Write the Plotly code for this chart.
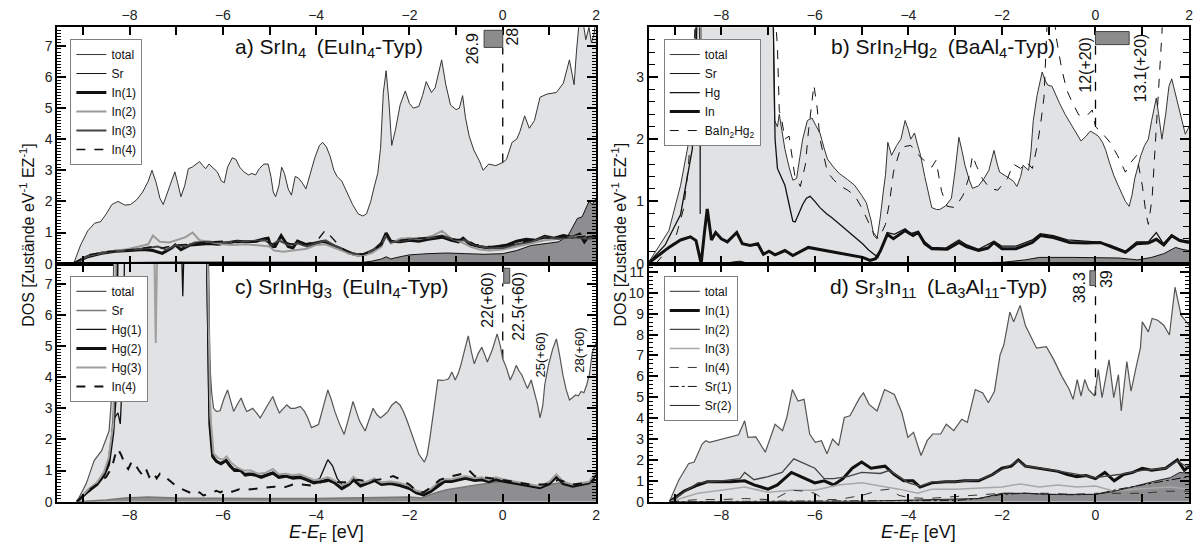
import plotly.graph_objects as go

# ===================== DATA =====================
# ---- panel a) SrIn4 ----
a_total_E = [-9.2,-9.05,-8.9,-8.75,-8.62,-8.5,-8.38,-8.25,-8.1,-7.98,-7.85,-7.72,-7.6,-7.52,-7.43,-7.35,-7.28,-7.18,-7.08,-7.03,-6.97,-6.9,-6.82,-6.74,-6.66,-6.58,-6.5,-6.43,-6.37,-6.3,-6.22,-6.12,-6.03,-5.97,-5.9,-5.8,-5.72,-5.64,-5.55,-5.45,-5.38,-5.3,-5.22,-5.12,-5.03,-4.97,-4.92,-4.87,-4.8,-4.74,-4.68,-4.6,-4.53,-4.45,-4.38,-4.3,-4.22,-4.13,-4.03,-3.93,-3.86,-3.78,-3.7,-3.62,-3.55,-3.45,-3.35,-3.22,-3.1,-3.0,-2.92,-2.83,-2.75,-2.68,-2.62,-2.56,-2.5,-2.44,-2.38,-2.3,-2.2,-2.09,-2.0,-1.92,-1.8,-1.72,-1.64,-1.53,-1.45,-1.31,-1.22,-1.12,-1.0,-0.93,-0.86,-0.8,-0.72,-0.62,-0.5,-0.42,-0.3,-0.15,0.0,0.08,0.2,0.3,0.37,0.47,0.57,0.68,0.8,0.95,1.15,1.3,1.43,1.53,1.58,1.64,1.72,1.78,1.85,1.9,1.96,2.0]
a_total_D = [0,0.6,1.05,1.3,1.35,1.6,1.9,2.0,1.88,1.9,2.05,2.3,2.65,3.0,2.6,2.1,1.9,2.3,2.75,2.95,2.6,2.15,2.5,3.05,3.1,3.2,3.28,3.15,3.05,3.2,3.1,2.95,2.65,2.6,3.1,3.4,3.35,3.1,2.95,2.85,2.9,2.85,3.05,3.2,3.2,2.8,2.3,2.15,2.5,3.1,2.9,2.4,2.2,2.8,2.75,2.6,2.4,2.85,3.4,3.8,3.9,3.75,3.45,3.0,2.8,2.65,2.3,1.9,1.6,1.53,1.6,2.0,2.5,2.9,3.7,5.5,6.2,5.2,3.8,4.3,5.1,5.55,5.15,5.0,5.05,5.4,5.85,5.5,5.65,6.55,5.75,5.1,4.95,5.0,5.4,4.7,4.1,3.65,3.3,3.0,3.2,3.15,3.25,3.35,3.9,4.0,4.25,4.75,4.35,4.6,5.35,5.45,5.5,5.8,6.55,5.75,6.8,7.8,7.8,7.2,7.6,7.1,7.4,8.0]
a_sr_E = [-9.2,-8.5,-7.0,-5.0,-4.0,-3.0,-2.8,-2.6,-2.5,-2.4,-2.2,-2.0,-1.6,-1.2,-0.8,-0.4,0.0,0.3,0.6,0.9,1.2,1.4,1.5,1.6,1.7,1.78,1.85,1.92,2.0]
a_sr_D = [0,0.03,0.05,0.04,0.05,0.04,0.08,0.15,0.22,0.15,0.22,0.28,0.32,0.34,0.32,0.3,0.32,0.42,0.58,0.65,0.7,0.9,1.2,1.45,1.5,1.8,2.0,1.9,2.1]
a_in1_E = [-9.2,-8.9,-8.6,-8.3,-8.0,-7.7,-7.5,-7.3,-7.1,-7.02,-6.9,-6.7,-6.5,-6.3,-6.1,-5.9,-5.7,-5.5,-5.3,-5.1,-5.03,-4.97,-4.88,-4.75,-4.6,-4.5,-4.4,-4.2,-4.0,-3.85,-3.7,-3.5,-3.3,-3.1,-2.95,-2.75,-2.6,-2.5,-2.4,-2.2,-2.0,-1.8,-1.6,-1.3,-1.1,-0.95,-0.85,-0.7,-0.5,-0.3,-0.1,0.1,0.3,0.5,0.7,0.9,1.1,1.3,1.5,1.65,1.75,1.85,2.0]
a_in1_D = [0,0.22,0.33,0.4,0.42,0.45,0.42,0.33,0.5,0.6,0.45,0.6,0.62,0.65,0.62,0.68,0.72,0.7,0.72,0.8,0.82,0.55,0.55,0.9,0.55,0.5,0.72,0.6,0.68,0.72,0.62,0.5,0.35,0.28,0.3,0.45,0.65,0.98,0.72,0.7,0.75,0.72,0.78,0.85,0.75,0.7,0.82,0.62,0.55,0.5,0.55,0.6,0.72,0.78,0.75,0.88,0.82,0.9,0.85,0.95,0.7,0.9,0.85]
a_in2_E = [-9.2,-8.9,-8.5,-8.1,-7.8,-7.6,-7.5,-7.35,-7.15,-7.0,-6.8,-6.65,-6.5,-6.3,-6.0,-5.8,-5.5,-5.2,-5.0,-4.9,-4.7,-4.5,-4.2,-4.0,-3.8,-3.6,-3.4,-3.2,-3.0,-2.8,-2.6,-2.5,-2.4,-2.2,-2.0,-1.8,-1.5,-1.3,-1.1,-0.9,-0.7,-0.5,-0.3,0.0,0.3,0.6,0.9,1.2,1.5,1.8,2.0]
a_in2_D = [0,0.25,0.38,0.45,0.55,0.62,0.9,0.7,0.68,0.75,0.85,1.0,0.75,0.7,0.62,0.6,0.62,0.58,0.55,0.42,0.38,0.42,0.48,0.6,0.62,0.5,0.4,0.28,0.25,0.35,0.55,0.9,0.65,0.8,0.82,0.78,0.9,1.05,0.8,0.7,0.55,0.45,0.42,0.45,0.55,0.65,0.75,0.8,0.85,0.9,0.95]
a_in3_E = [-9.2,-8.9,-8.6,-8.2,-7.9,-7.6,-7.4,-7.2,-7.0,-6.8,-6.6,-6.3,-6.0,-5.7,-5.4,-5.1,-4.95,-4.8,-4.6,-4.4,-4.2,-4.0,-3.8,-3.6,-3.4,-3.2,-3.0,-2.8,-2.6,-2.5,-2.4,-2.2,-1.9,-1.6,-1.3,-1.0,-0.8,-0.6,-0.3,0.0,0.3,0.6,0.9,1.2,1.5,1.8,2.0]
a_in3_D = [0,0.25,0.35,0.42,0.45,0.5,0.55,0.45,0.6,0.55,0.68,0.7,0.68,0.7,0.72,0.75,0.6,0.75,0.6,0.65,0.55,0.65,0.75,0.58,0.45,0.32,0.3,0.42,0.6,0.9,0.68,0.72,0.8,0.82,0.9,0.75,0.75,0.6,0.5,0.5,0.62,0.7,0.85,0.8,0.85,0.8,0.82]
a_in4_E = [-9.2,-8.9,-8.5,-8.1,-7.8,-7.5,-7.3,-7.0,-6.7,-6.4,-6.0,-5.7,-5.4,-5.1,-4.9,-4.7,-4.5,-4.3,-4.0,-3.9,-3.8,-3.7,-3.55,-3.4,-3.2,-3.0,-2.8,-2.6,-2.5,-2.4,-2.2,-1.9,-1.6,-1.3,-1.0,-0.8,-0.6,-0.3,0.0,0.3,0.6,0.9,1.2,1.5,1.8,2.0]
a_in4_D = [0,0.28,0.38,0.42,0.48,0.55,0.5,0.6,0.62,0.68,0.72,0.68,0.7,0.72,0.62,0.7,0.62,0.62,0.7,0.9,1.08,0.9,0.65,0.45,0.32,0.3,0.4,0.62,0.95,0.7,0.75,0.8,0.85,0.88,0.78,0.78,0.62,0.55,0.55,0.65,0.75,0.82,0.85,0.85,0.88,0.85]

# ---- panel b) SrIn2Hg2 ----
b_total_E = [-9.57,-9.12,-8.87,-8.66,-8.58,-8.52,-8.47,-8.45,-8.43,-8.3,-7.5,-6.9,-6.86,-6.8,-6.76,-6.7,-6.64,-6.55,-6.47,-6.39,-6.3,-6.26,-6.16,-6.06,-5.98,-5.89,-5.8,-5.73,-5.6,-5.48,-5.3,-5.15,-5.0,-4.9,-4.8,-4.74,-4.67,-4.6,-4.53,-4.49,-4.44,-4.4,-4.36,-4.25,-4.16,-4.07,-4.0,-3.95,-3.87,-3.8,-3.74,-3.65,-3.58,-3.5,-3.4,-3.33,-3.2,-3.08,-3.0,-2.92,-2.85,-2.79,-2.7,-2.63,-2.5,-2.38,-2.28,-2.17,-2.1,-2.05,-1.88,-1.75,-1.68,-1.6,-1.55,-1.43,-1.38,-1.33,-1.25,-1.2,-1.14,-1.08,-1.02,-0.93,-0.85,-0.77,-0.65,-0.52,-0.4,-0.31,-0.2,-0.11,0.0,0.06,0.15,0.22,0.3,0.39,0.47,0.55,0.64,0.72,0.78,0.84,0.9,0.97,1.05,1.13,1.2,1.27,1.3,1.35,1.42,1.5,1.57,1.63,1.7,1.79,1.85,1.92,2.0]
b_total_D = [0,0.53,1.26,2.1,3.0,4.5,4.5,0.8,4.5,4.5,4.5,4.5,2.3,2.2,2.4,2.1,1.84,1.55,1.34,1.37,1.8,2.0,2.3,2.34,2.22,2.1,1.85,1.68,1.55,1.45,1.35,1.26,1.1,0.98,0.7,0.45,0.4,0.75,1.2,1.42,1.95,1.85,1.74,1.9,2.0,2.3,2.15,2.0,2.1,1.9,1.74,1.4,1.16,0.9,0.87,0.87,0.93,1.05,1.5,2.03,1.8,1.58,1.35,1.21,1.25,1.37,1.5,1.82,1.6,1.47,1.39,1.32,1.24,1.4,1.58,1.5,1.8,2.3,2.7,2.9,3.08,2.95,2.87,2.85,2.7,2.58,2.4,2.24,2.1,1.97,2.05,2.13,2.08,2.05,1.95,1.82,1.62,1.42,1.28,1.16,1.0,0.92,1.1,1.37,1.55,1.74,1.9,2.0,2.3,2.6,2.66,2.4,2.0,2.4,2.85,2.97,2.75,2.47,2.25,2.08,2.2]
b_sr_E = [-9.57,-8.0,-7.6,-7.4,-5.0,-2.0,-1.5,-1.2,-0.5,0.0,0.5,0.9,1.2,1.46,1.71,1.85,2.0]
b_sr_D = [0,0.0,0.04,0.0,0.0,0.02,0.06,0.1,0.1,0.1,0.09,0.06,0.1,0.16,0.26,0.23,0.21]
b_hg_E = [-9.57,-9.2,-8.87,-8.7,-8.62,-8.55,-8.5,-6.9,-6.85,-6.8,-6.72,-6.64,-6.55,-6.47,-6.42,-6.35,-6.26,-6.18,-6.1,-6.0,-5.89,-5.75,-5.64,-5.45,-5.31,-5.15,-4.98,-4.85,-4.74,-4.65,-4.55,-4.45,-4.3,-4.07,-3.95,-3.79,-3.65,-3.5,-3.2,-2.92,-2.75,-2.5,-2.17,-2.0,-1.7,-1.35,-1.18,-0.9,-0.6,-0.3,0.0,0.3,0.64,0.88,1.13,1.3,1.45,1.63,1.8,2.0]
b_hg_D = [0,0.3,0.79,1.5,1.84,3.0,4.5,4.5,2.0,1.53,1.4,1.26,0.95,0.68,0.67,0.8,0.95,1.05,1.08,1.0,0.9,0.8,0.74,0.62,0.53,0.42,0.32,0.22,0.16,0.1,0.3,0.5,0.47,0.56,0.48,0.52,0.35,0.26,0.25,0.38,0.3,0.23,0.36,0.28,0.28,0.38,0.48,0.45,0.38,0.36,0.35,0.3,0.2,0.35,0.35,0.5,0.32,0.46,0.38,0.36]
b_in_E = [-9.57,-9.12,-8.87,-8.66,-8.54,-8.47,-8.43,-8.36,-8.3,-8.25,-8.21,-8.12,-8.0,-7.87,-7.67,-7.55,-7.38,-7.22,-7.1,-6.98,-6.85,-6.64,-6.47,-6.14,-5.8,-5.4,-4.98,-4.82,-4.7,-4.6,-4.45,-4.32,-4.07,-3.9,-3.79,-3.65,-3.5,-3.17,-2.92,-2.75,-2.5,-2.3,-2.17,-2.0,-1.7,-1.35,-1.18,-0.9,-0.55,-0.2,0.1,0.3,0.64,0.88,1.13,1.3,1.46,1.63,1.8,2.0]
b_in_D = [0,0.26,0.38,0.43,0.37,0.1,0.0,0.5,0.88,0.6,0.38,0.5,0.4,0.35,0.5,0.32,0.29,0.32,0.15,0.2,0.14,0.21,0.13,0.26,0.21,0.16,0.1,0.05,0.08,0.2,0.47,0.4,0.53,0.45,0.5,0.32,0.24,0.23,0.34,0.27,0.21,0.25,0.34,0.24,0.24,0.34,0.45,0.42,0.34,0.33,0.34,0.28,0.18,0.32,0.33,0.39,0.3,0.45,0.37,0.34]
b_ba_E = [-9.4,-9.0,-8.8,-8.7,-8.6,-8.54,-6.9,-6.8,-6.76,-6.72,-6.64,-6.55,-6.43,-6.31,-6.2,-6.14,-6.02,-5.95,-5.89,-5.8,-5.73,-5.6,-5.48,-5.3,-5.15,-5.0,-4.9,-4.75,-4.65,-4.57,-4.49,-4.4,-4.32,-4.16,-3.95,-3.85,-3.74,-3.62,-3.5,-3.41,-3.29,-3.17,-3.0,-2.83,-2.7,-2.63,-2.55,-2.42,-2.26,-2.09,-1.88,-1.76,-1.6,-1.47,-1.35,-1.26,-1.18,-1.1,-1.05,-1.0,-0.9,-0.85,-0.73,-0.62,-0.52,-0.36,-0.19,-0.07,0.0,0.14,0.31,0.47,0.64,0.76,0.88,1.0,1.08,1.13,1.21,1.34,1.42,1.46,2.0]
b_ba_D = [0,0.35,0.9,1.58,2.8,4.5,4.5,3.5,2.45,2.37,2.0,2.05,1.42,1.24,1.6,2.1,2.87,2.5,2.0,1.7,1.47,1.35,1.26,1.18,1.1,0.9,0.74,0.5,0.4,0.5,0.63,1.0,1.47,1.87,1.9,1.8,1.71,1.63,1.55,1.66,1.16,0.92,0.9,1.1,1.4,1.74,1.58,1.37,1.21,1.18,1.37,1.6,1.53,1.63,1.53,1.84,2.2,2.68,3.5,4.5,4.5,3.68,3.16,2.8,2.63,2.39,2.37,2.47,2.2,2.1,1.95,1.74,1.47,1.63,1.74,1.26,0.8,0.63,1.05,2.63,3.7,4.5,4.5]

# ---- panel c) SrInHg3 ----
c_total_E = [-9.13,-8.93,-8.76,-8.6,-8.44,-8.38,-8.33,-6.34,-6.3,-6.24,-6.2,-6.14,-6.06,-5.98,-5.9,-5.82,-5.77,-5.7,-5.61,-5.55,-5.49,-5.42,-5.36,-5.28,-5.2,-5.08,-4.93,-4.86,-4.79,-4.7,-4.63,-4.55,-4.46,-4.34,-4.25,-4.18,-4.1,-3.95,-3.85,-3.75,-3.68,-3.6,-3.5,-3.4,-3.3,-3.21,-3.15,-3.07,-2.95,-2.87,-2.78,-2.7,-2.62,-2.53,-2.46,-2.38,-2.29,-2.2,-2.13,-2.05,-1.97,-1.88,-1.8,-1.68,-1.62,-1.56,-1.48,-1.39,-1.3,-1.23,-1.16,-1.09,-1.02,-0.96,-0.9,-0.82,-0.74,-0.67,-0.61,-0.53,-0.45,-0.38,-0.33,-0.22,-0.12,-0.05,0.0,0.08,0.16,0.22,0.29,0.35,0.41,0.47,0.53,0.61,0.7,0.75,0.8,0.86,0.9,0.98,1.07,1.15,1.22,1.29,1.36,1.43,1.5,1.56,1.62,1.68,1.74,1.8,1.86,1.92,2.0]
c_total_D = [0,0.58,1.32,1.64,2.27,3.5,9,9,4.9,3.5,3.0,2.9,2.92,3.3,3.59,3.2,2.9,3.1,3.33,3.1,2.9,2.95,3.0,2.85,2.69,3.0,3.38,3.1,2.85,3.0,3.11,3.0,3.0,3.06,2.9,2.69,2.38,2.48,3.0,3.59,3.3,2.9,2.5,2.16,2.7,3.22,2.95,2.59,2.27,2.6,3.0,2.8,2.69,2.8,2.9,3.1,3.22,3.1,2.9,2.6,2.27,1.9,1.53,1.27,1.5,2.06,3.0,3.91,3.9,3.91,3.95,4.17,3.91,4.1,4.38,4.9,5.33,4.8,4.43,4.75,4.96,4.7,4.49,4.9,5.39,5.0,4.59,4.3,3.91,4.1,4.38,4.2,4.07,3.85,3.64,3.91,3.43,3.1,2.69,3.1,3.75,4.38,4.9,5.23,4.7,4.07,3.6,3.27,3.35,3.43,3.4,3.54,3.5,3.75,4.1,4.8,5.1]
c_sr_E = [-9.13,-8.5,-8.1,-7.6,-7.0,-6.0,-5.0,-4.0,-3.0,-2.0,-1.75,-1.6,-1.4,-1.2,-1.0,-0.8,-0.5,-0.2,0.0,0.2,0.4,0.6,0.8,1.0,1.2,1.4,1.6,1.8,2.0]
c_sr_D = [0,0.05,0.12,0.15,0.12,0.1,0.1,0.1,0.12,0.15,0.12,0.2,0.3,0.38,0.42,0.48,0.55,0.6,0.65,0.6,0.55,0.5,0.45,0.55,0.6,0.52,0.55,0.6,0.62]
c_hg1_E = [-9.13,-8.9,-8.7,-8.55,-8.45,-8.38,-8.32,-8.25,-8.2,-8.14,-8.1,-6.9,-6.86,-6.82,-6.36,-6.3,-6.24,-6.18,-6.06,-5.93,-5.85,-5.77,-5.65,-5.55,-5.45,-5.3,-5.2,-5.05,-4.93,-4.8,-4.65,-4.5,-4.35,-4.2,-4.05,-3.92,-3.82,-3.75,-3.65,-3.55,-3.42,-3.3,-3.2,-3.05,-2.9,-2.75,-2.6,-2.4,-2.2,-2.0,-1.85,-1.7,-1.55,-1.4,-1.25,-1.1,-0.95,-0.8,-0.6,-0.45,-0.3,-0.15,0.0,0.2,0.4,0.6,0.8,1.0,1.15,1.3,1.5,1.7,1.85,2.0]
c_hg1_D = [0,0.35,0.6,0.9,1.3,2.0,2.7,2.85,2.5,4.5,9,9,6.6,9,9,3.0,1.7,1.35,1.25,1.35,1.2,1.05,1.05,0.9,0.92,0.9,0.82,0.88,0.95,0.82,0.85,0.8,0.82,0.75,0.65,0.75,1.1,1.35,1.15,0.75,0.5,0.6,0.75,0.55,0.62,0.72,0.6,0.62,0.55,0.45,0.3,0.25,0.35,0.55,0.7,0.7,0.75,0.8,0.72,0.75,0.68,0.75,0.7,0.65,0.6,0.55,0.48,0.62,0.85,0.62,0.52,0.58,0.62,0.9]
c_hg2_E = [-9.13,-8.9,-8.7,-8.55,-8.45,-8.36,-8.3,-8.26,-6.34,-6.28,-6.22,-6.14,-6.04,-5.93,-5.85,-5.75,-5.62,-5.52,-5.4,-5.3,-5.18,-5.05,-4.93,-4.8,-4.65,-4.5,-4.35,-4.2,-4.05,-3.9,-3.75,-3.6,-3.45,-3.3,-3.2,-3.05,-2.9,-2.75,-2.6,-2.4,-2.2,-2.0,-1.85,-1.7,-1.55,-1.4,-1.25,-1.1,-0.95,-0.8,-0.6,-0.45,-0.3,-0.15,0.0,0.2,0.4,0.6,0.8,1.0,1.15,1.3,1.5,1.7,1.85,2.0]
c_hg2_D = [0,0.32,0.55,0.85,1.2,2.2,3.5,9,9,2.5,1.45,1.3,1.22,1.32,1.15,1.0,1.0,0.85,0.88,0.85,0.78,0.85,0.92,0.78,0.82,0.75,0.78,0.7,0.6,0.65,0.7,0.6,0.42,0.55,0.7,0.5,0.58,0.68,0.55,0.58,0.52,0.42,0.28,0.22,0.32,0.5,0.65,0.65,0.7,0.75,0.68,0.7,0.64,0.7,0.66,0.6,0.56,0.5,0.45,0.58,0.8,0.58,0.5,0.55,0.6,0.85]
c_hg3_E = [-9.13,-8.9,-8.7,-8.55,-8.45,-8.35,-8.28,-7.48,-7.44,-7.4,-6.34,-6.27,-6.2,-6.1,-6.0,-5.92,-5.82,-5.7,-5.55,-5.4,-5.25,-5.1,-4.93,-4.8,-4.65,-4.5,-4.35,-4.2,-4.05,-3.9,-3.75,-3.6,-3.45,-3.3,-3.2,-3.05,-2.9,-2.75,-2.6,-2.4,-2.2,-2.0,-1.85,-1.7,-1.55,-1.4,-1.25,-1.1,-0.95,-0.8,-0.6,-0.45,-0.3,-0.15,0.0,0.2,0.4,0.6,0.8,1.0,1.15,1.3,1.5,1.7,1.85,2.0]
c_hg3_D = [0,0.38,0.62,0.95,1.4,2.5,9,9,5.1,9,9,2.8,1.55,1.4,1.35,1.45,1.25,1.1,1.0,1.0,0.9,0.92,1.05,0.88,0.9,0.85,0.88,0.8,0.7,0.72,0.78,0.68,0.52,0.62,0.8,0.6,0.65,0.75,0.62,0.65,0.6,0.5,0.35,0.3,0.4,0.6,0.72,0.72,0.78,0.82,0.75,0.78,0.7,0.78,0.72,0.66,0.62,0.56,0.5,0.64,0.88,0.64,0.55,0.6,0.64,0.95]
c_in4_E = [-9.13,-8.9,-8.7,-8.5,-8.38,-8.3,-8.25,-8.18,-8.1,-8.03,-7.95,-7.88,-7.8,-7.72,-7.65,-7.58,-7.5,-7.42,-7.35,-7.28,-7.2,-7.1,-7.0,-6.9,-6.8,-6.7,-6.6,-6.5,-6.42,-6.3,-6.22,-6.14,-6.05,-5.95,-5.8,-5.65,-5.5,-5.3,-5.1,-4.9,-4.7,-4.5,-4.3,-4.1,-3.9,-3.7,-3.5,-3.3,-3.1,-2.9,-2.7,-2.5,-2.35,-2.2,-2.0,-1.85,-1.7,-1.55,-1.35,-1.2,-1.0,-0.85,-0.72,-0.6,-0.4,-0.2,0.0,0.3,0.6,0.9,1.2,1.5,1.8,2.0]
c_in4_D = [0,0.35,0.55,0.8,1.1,1.55,1.7,1.5,1.2,1.05,1.3,1.2,1.0,0.85,1.05,0.8,0.95,0.75,0.9,0.8,0.75,0.62,0.5,0.42,0.35,0.28,0.22,0.3,0.2,0.25,0.3,0.35,0.3,0.38,0.32,0.4,0.38,0.42,0.45,0.48,0.45,0.55,0.55,0.52,0.62,0.68,0.62,0.62,0.7,0.65,0.7,0.75,0.82,0.72,0.55,0.35,0.3,0.45,0.7,0.78,0.85,0.9,1.0,0.82,0.78,0.75,0.7,0.62,0.55,0.55,0.7,0.55,0.6,0.7]

# ---- panel d) Sr3In11 ----
d_total_E = [-9.11,-8.91,-8.7,-8.58,-8.41,-8.33,-8.25,-8.0,-7.75,-7.63,-7.5,-7.43,-7.26,-7.06,-6.85,-6.69,-6.6,-6.48,-6.36,-6.23,-6.11,-5.99,-5.86,-5.74,-5.62,-5.49,-5.37,-5.25,-5.04,-4.96,-4.84,-4.67,-4.51,-4.43,-4.3,-4.14,-4.01,-3.89,-3.73,-3.6,-3.48,-3.31,-3.19,-3.03,-2.86,-2.74,-2.57,-2.41,-2.29,-2.16,-2.04,-1.96,-1.83,-1.75,-1.61,-1.5,-1.38,-1.26,-1.05,-0.89,-0.72,-0.56,-0.48,-0.39,-0.31,-0.23,-0.15,-0.02,0.06,0.14,0.29,0.39,0.49,0.55,0.67,0.76,0.88,0.96,1.0,1.13,1.21,1.33,1.46,1.58,1.7,1.83,2.0]
d_total_D = [0,1.03,1.82,1.9,2.76,2.92,2.84,3.0,3.16,3.2,3.87,3.08,3.1,2.37,3.71,3.4,4.03,5.37,4.82,4.9,3.24,2.84,2.92,2.29,3.0,2.69,4.03,4.11,4.98,5.21,4.66,4.34,5.37,5.29,5.13,4.27,3.08,3.32,2.21,2.92,3.24,3.24,3.71,3.4,3.95,3.8,5.37,5.21,4.74,5.29,7.03,7.5,9.08,8.61,9.4,8.45,7.9,7.35,7.42,6.79,6.0,5.37,4.9,5.85,5.06,5.85,5.37,5.06,6.32,4.98,6.79,4.98,6.08,4.34,6.71,5.29,6.56,7.35,8.61,8.13,8.77,8.69,8.45,7.98,10.27,8.93,8.45]
d_in1_E = [-9.1,-8.8,-8.5,-8.3,-7.8,-7.5,-7.3,-7.0,-6.8,-6.5,-6.3,-6.0,-5.8,-5.6,-5.4,-5.2,-5.0,-4.8,-4.5,-4.3,-4.1,-3.9,-3.75,-3.5,-3.2,-3.0,-2.8,-2.5,-2.2,-2.0,-1.8,-1.65,-1.5,-1.2,-1.0,-0.8,-0.6,-0.4,-0.2,0.0,0.2,0.4,0.6,0.8,1.0,1.2,1.5,1.75,1.9,2.0]
d_in1_D = [0,0.5,0.8,0.95,0.95,1.0,0.8,0.6,0.8,1.4,1.2,0.9,1.0,0.8,1.1,1.6,1.9,1.6,1.7,1.3,1.0,1.0,0.7,0.9,0.95,0.95,1.0,1.0,1.3,1.6,1.7,2.0,1.7,1.6,1.5,1.45,1.3,1.2,1.25,1.1,1.4,1.0,1.3,1.4,1.6,1.5,1.6,2.0,1.5,1.7]
d_in2_E = [-9.1,-8.5,-8.0,-7.6,-7.5,-7.3,-7.0,-6.7,-6.45,-6.2,-6.0,-5.8,-5.6,-5.3,-5.0,-4.6,-4.4,-4.2,-4.0,-3.75,-3.5,-3.0,-2.5,-2.2,-2.0,-1.65,-1.5,-1.0,-0.5,0.0,0.5,1.0,1.5,1.75,2.0]
d_in2_D = [0,0.9,1.0,1.1,1.4,1.05,1.2,1.4,2.05,1.8,1.6,1.1,1.1,1.2,1.4,1.35,1.5,1.2,0.9,0.75,0.95,0.95,1.05,1.3,1.55,1.95,1.7,1.55,1.35,1.15,1.3,1.5,1.6,1.95,1.6]
d_in3_E = [-9.1,-8.5,-8.0,-7.5,-7.0,-6.5,-6.0,-5.5,-5.0,-4.6,-4.2,-3.8,-3.5,-3.0,-2.5,-2.0,-1.6,-1.2,-0.8,-0.4,0.0,0.4,0.8,1.2,1.6,2.0]
d_in3_D = [0,0.4,0.55,0.7,0.45,0.55,0.55,0.8,0.9,0.75,0.6,0.4,0.6,0.6,0.65,0.7,0.85,0.7,0.8,0.7,0.75,0.5,0.6,0.65,0.7,0.6]
d_in4_E = [-9.1,-8.5,-8.0,-7.5,-7.0,-6.8,-6.5,-6.2,-6.0,-5.8,-5.5,-5.0,-4.6,-4.4,-4.2,-4.0,-3.6,-3.0,-2.5,-2.0,-1.6,-1.0,-0.5,0.0,0.5,1.0,1.5,2.0]
d_in4_D = [0,0.1,0.1,0.15,0.1,0.2,0.55,0.5,0.4,0.1,0.1,0.3,0.55,0.6,0.3,0.2,0.15,0.25,0.3,0.4,0.4,0.4,0.35,0.4,0.4,0.4,0.5,0.5]
d_sr1_E = [-9.1,-7.0,-5.0,-3.0,-2.5,-2.0,-1.5,-1.0,-0.5,0.0,0.5,1.0,1.5,2.0]
d_sr1_D = [0,0.03,0.04,0.05,0.15,0.35,0.4,0.35,0.33,0.35,0.6,0.8,1.0,1.2]
d_sr2_E = [-9.1,-7.0,-5.0,-2.5,-2.0,-1.5,-1.0,0.0,0.3,0.6,1.0,1.3,1.6,1.8,2.0]
d_sr2_D = [0,0.02,0.02,0.15,0.4,0.4,0.35,0.35,0.45,0.6,0.85,1.0,1.15,1.4,1.35]

# ---- Fermi-level markers: (E, lower DOS, upper DOS) and box [E0, E1, D0, D1] ----
ef_a = [0.0, 3.25, 6.95]; box_a = [-0.4, 0.0, 6.95, 7.5]
ef_b = [0.0, 2.2, 3.52];  box_b = [0.0, 0.72, 3.52, 3.73]
ef_c = [0.0, 4.6, 7.02];  box_c = [0.02, 0.15, 7.02, 7.5]
ef_d = [0.0, 5.1, 10.35]; box_d = [-0.12, 0.0, 10.35, 11.06]

# electron-count labels: (text, E, DOS, font size)
labels_a = [("26.9", -0.63, 6.9, 16), ("28", 0.2, 7.3, 16)]
labels_b = [("12(+20)", -0.22, 3.2, 16), ("13.1(+20)", 0.97, 3.15, 16)]
labels_c = [("22(+60)", -0.33, 6.5, 16), ("22.5(+60)", 0.34, 6.28, 16),
            ("25(+60)", 0.8, 4.7, 13), ("28(+60)", 1.64, 4.86, 13)]
labels_d = [("38.3", -0.34, 10.25, 16), ("39", 0.22, 10.65, 16)]

# ===================== FIGURE =====================
LIGHT = "#e1e2e4"
DARK = "#8e8e90"
FONT = "Liberation Sans, Arial, sans-serif"

fig = go.Figure()

def fill(ax, E, D, color):
    fig.add_trace(go.Scatter(x=E, y=D, mode="lines", line=dict(width=0), fill="tozeroy",
                             fillcolor=color, showlegend=False, hoverinfo="skip",
                             xaxis="x" + ax, yaxis="y" + ax))

def line(ax, E, D, name, color, width, dash="solid", leg="legend", show=True):
    fig.add_trace(go.Scatter(x=E, y=D, mode="lines", name=name,
                             line=dict(color=color, width=width, dash=dash),
                             legend=leg, showlegend=show,
                             xaxis="x" + ax, yaxis="y" + ax))

def ef(ax, spec):
    fig.add_trace(go.Scatter(x=[spec[0], spec[0]], y=[spec[1], spec[2]], mode="lines",
                             line=dict(color="black", width=1.3, dash="dash"),
                             showlegend=False, hoverinfo="skip", xaxis="x" + ax, yaxis="y" + ax))

# panel a
fill("", a_total_E, a_total_D, LIGHT)
fill("", a_sr_E, a_sr_D, DARK)
ef("", ef_a)
line("", a_total_E, a_total_D, "total", "#333", 1.0, leg="legend")
line("", a_sr_E, a_sr_D, "Sr", "#111", 1.0, leg="legend")
line("", a_in1_E, a_in1_D, "In(1)", "#111", 3.0, leg="legend")
line("", a_in2_E, a_in2_D, "In(2)", "#9a9a9a", 2.0, leg="legend")
line("", a_in3_E, a_in3_D, "In(3)", "#444", 2.0, leg="legend")
line("", a_in4_E, a_in4_D, "In(4)", "#111", 1.4, "dash", leg="legend")

# panel b
fill("2", b_total_E, b_total_D, LIGHT)
fill("2", b_sr_E, b_sr_D, DARK)
ef("2", ef_b)
line("2", b_total_E, b_total_D, "total", "#333", 1.0, leg="legend2")
line("2", b_sr_E, b_sr_D, "Sr", "#111", 1.0, leg="legend2")
line("2", b_hg_E, b_hg_D, "Hg", "#111", 1.3, leg="legend2")
line("2", b_in_E, b_in_D, "In", "#111", 3.0, leg="legend2")
line("2", b_ba_E, b_ba_D, "BaIn<sub>2</sub>Hg<sub>2</sub>", "#111", 1.0, "dash", leg="legend2")

# panel c
fill("3", c_total_E, c_total_D, LIGHT)
fill("3", c_sr_E, c_sr_D, DARK)
ef("3", ef_c)
line("3", c_total_E, c_total_D, "total", "#555", 1.2, leg="legend3")
line("3", c_sr_E, c_sr_D, "Sr", "#777", 1.5, leg="legend3")
line("3", c_hg1_E, c_hg1_D, "Hg(1)", "#111", 1.3, leg="legend3")
line("3", c_hg2_E, c_hg2_D, "Hg(2)", "#111", 3.0, leg="legend3")
line("3", c_hg3_E, c_hg3_D, "Hg(3)", "#a0a0a0", 2.0, leg="legend3")
line("3", c_in4_E, c_in4_D, "In(4)", "#111", 2.0, "dash", leg="legend3")

# panel d
fill("4", d_total_E, d_total_D, LIGHT)
fill("4", d_sr2_E, d_sr2_D, DARK)
ef("4", ef_d)
line("4", d_total_E, d_total_D, "total", "#555", 1.2, leg="legend4")
line("4", d_in1_E, d_in1_D, "In(1)", "#111", 3.0, leg="legend4")
line("4", d_in2_E, d_in2_D, "In(2)", "#444", 1.3, leg="legend4")
line("4", d_in3_E, d_in3_D, "In(3)", "#a8a8a8", 1.5, leg="legend4")
line("4", d_in4_E, d_in4_D, "In(4)", "#333", 1.0, "dash", leg="legend4")
line("4", d_sr1_E, d_sr1_D, "Sr(1)", "#111", 1.0, "dashdot", leg="legend4")
line("4", d_sr2_E, d_sr2_D, "Sr(2)", "#222", 1.0, leg="legend4")

# boxes
for ax, b in [("", box_a), ("2", box_b), ("3", box_c), ("4", box_d)]:
    fig.add_shape(type="rect", xref="x" + ax, yref="y" + ax, x0=b[0], x1=b[1], y0=b[2], y1=b[3],
                  fillcolor="#8c8c8c", line=dict(color="#444", width=1), layer="above")

anns = []
for ax, labs in [("", labels_a), ("2", labels_b), ("3", labels_c), ("4", labels_d)]:
    for t, e, dval, fs in labs:
        anns.append(dict(text=t, x=e, y=dval, xref="x" + ax, yref="y" + ax, showarrow=False,
                         textangle=-90, xanchor="center", yanchor="middle",
                         font=dict(size=fs, family=FONT, color="#111")))

titles = [("a) SrIn<sub>4</sub>\u2002(EuIn<sub>4</sub>-Typ)", 0.2743, 0.912),
          ("b) SrIn<sub>2</sub>Hg<sub>2</sub>\u2002(BaAl<sub>4</sub>-Typ)", 0.7864, 0.912),
          ("c) SrInHg<sub>3</sub>\u2002(EuIn<sub>4</sub>-Typ)", 0.285, 0.473),
          ("d) Sr<sub>3</sub>In<sub>11</sub>\u2002(La<sub>3</sub>Al<sub>11</sub>-Typ)", 0.783, 0.473)]
for t, x, y in titles:
    anns.append(dict(text=t, x=x, y=y, xref="paper", yref="paper", showarrow=False,
                     xanchor="center", yanchor="middle",
                     font=dict(size=21, family=FONT, color="#111")))

ylab = "DOS [Zustände eV<sup>-1</sup> EZ<sup>-1</sup>]"
for x in [0.0225, 0.516]:
    anns.append(dict(text=ylab, x=x, y=0.57, xref="paper", yref="paper", showarrow=False,
                     textangle=-90, xanchor="center", yanchor="middle",
                     font=dict(size=16, family=FONT, color="#111")))
xlab = "<i>E</i>-<i>E</i><sub>F</sub> [eV]"
for x in [0.2725, 0.766]:
    anns.append(dict(text=xlab, x=x, y=0.022, xref="paper", yref="paper", showarrow=False,
                     xanchor="center", yanchor="middle",
                     font=dict(size=18, family=FONT, color="#111")))

tickfont = dict(size=14, family=FONT, color="#222")

def xax(domain, anchor, side):
    return dict(domain=domain, anchor=anchor, side=side, range=[-9.55, 2.0], tickmode="linear",
                tick0=-8, dtick=2, ticks="inside", ticklen=8, tickwidth=1.5, tickcolor="black",
                minor=dict(dtick=1, tick0=-9, ticks="inside", ticklen=8, tickwidth=1.5, tickcolor="black"),
                showline=True, linecolor="black", linewidth=2, mirror="ticks", showgrid=False,
                zeroline=False, tickfont=tickfont)

def yax(domain, anchor, rng, mdt, mlen):
    return dict(domain=domain, anchor=anchor, range=rng, tickmode="linear", tick0=0, dtick=1,
                ticks="inside", ticklen=9, tickwidth=1.5, tickcolor="black",
                minor=dict(dtick=mdt, tick0=0, ticks="inside", ticklen=mlen, tickwidth=1, tickcolor="black"),
                showline=True, linecolor="black", linewidth=2, mirror="ticks", showgrid=False,
                zeroline=False, tickfont=tickfont)

XL = [0.0478, 0.4971]
XR = [0.5411, 0.9917]
YT = [0.5172, 0.9502]
YB = [0.0812, 0.5172]

legstyle = dict(bgcolor="white", bordercolor="#808080", borderwidth=1,
                font=dict(size=12, family=FONT, color="#111"), xanchor="left", yanchor="top",
                itemwidth=30, tracegroupgap=0)

fig.update_layout(
    width=1203, height=554, autosize=False,
    margin=dict(l=0, r=0, t=0, b=0),
    paper_bgcolor="white", plot_bgcolor="white",
    xaxis=xax(XL, "y", "top"), yaxis=yax(YT, "x", [0, 7.6], 0.1, 4),
    xaxis2=xax(XR, "y2", "top"), yaxis2=yax(YT, "x2", [0, 3.8], 0.2, 6),
    xaxis3=xax(XL, "y3", "bottom"), yaxis3=yax(YB, "x3", [0, 7.65], 0.1, 4),
    xaxis4=xax(XR, "y4", "bottom"), yaxis4=yax(YB, "x4", [0, 11.4], 0.2, 4),
    legend=dict(x=0.0587, y=0.9285, **legstyle),
    legend2=dict(x=0.5536, y=0.9285, **legstyle),
    legend3=dict(x=0.0587, y=0.4946, **legstyle),
    legend4=dict(x=0.5536, y=0.4946, **legstyle),
    annotations=anns,
    showlegend=True,
)

fig.write_html("out.html", config={"displayModeBar": False},
               post_script="document.body.style.margin='0';")
